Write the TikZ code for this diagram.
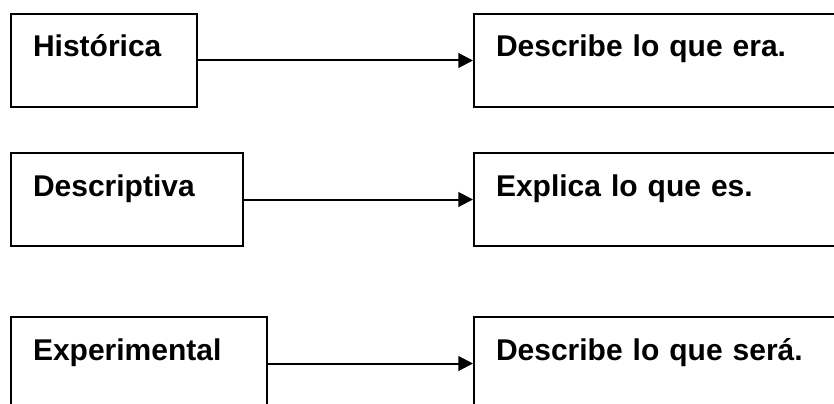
\documentclass[tikz,border=0pt]{standalone}
\usepackage{fontspec}
\setmainfont{Liberation Sans}
\usetikzlibrary{arrows.meta}
\tikzset{>=latex}

\begin{document}
\begin{tikzpicture}[
    x = 0.75pt, y = -0.75pt,
    b0/.style = {draw, line width = 1.5pt, anchor = north west, align = left, inner xsep = 16.5pt, inner ysep = 15pt, text height = 17.25pt, text depth = 22.5pt, font = \fontsize{22.5pt}{27pt}\selectfont\bfseries},
    c0/.style = {line width = 1.5pt, -{Triangle[length = 11pt, width = 11pt]}},
]
\useasboundingbox (0,0) rectangle (834,403);
\clip (0,0) rectangle (834,403);

\begin{scope}
\node[b0, text width = 106.5pt] (hist) at (10,13) {Histórica};
\node[b0, text width = 267pt] (era) at (473,13) {Describe lo que era.};
\draw[c0] (hist.east) -- (era.west);
\end{scope}

\begin{scope}
\node[b0, text width = 141pt] (desc) at (10,152) {Descriptiva};
\node[b0, text width = 267pt] (es) at (473,152) {Explica lo que es.};
\draw[c0] (desc.east) -- (es.west);
\end{scope}

\begin{scope}
\node[b0, text width = 159pt] (expe) at (10,316) {Experimental};
\node[b0, text width = 267pt] (sera) at (473,316) {Describe lo que será.};
\draw[c0] (expe.east) -- (sera.west);
\end{scope}

\end{tikzpicture}
\end{document}
